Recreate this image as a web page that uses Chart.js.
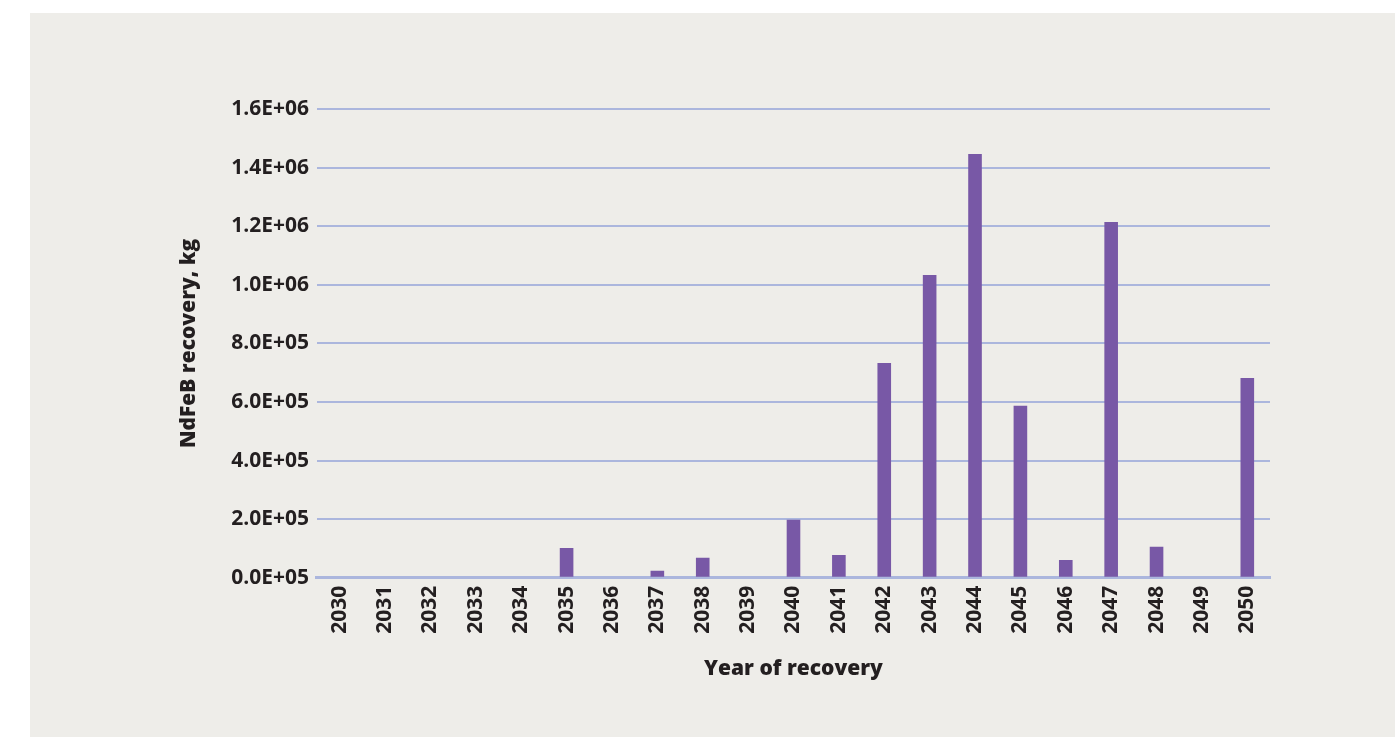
<!DOCTYPE html>
<html>
<head>
<meta charset="utf-8">
<script src="https://cdn.jsdelivr.net/npm/chart.js@4.4.1/dist/chart.umd.min.js"></script>
<style>
  html, body { margin: 0; padding: 0; background: #ffffff; }
  #panel { position: absolute; left: 30px; top: 13px; width: 1365px; height: 724px; background: #eeede9; }
  #wrap { position: absolute; left: 0; top: 0; width: 1395px; height: 737px; }
</style>
</head>
<body>
<div id="panel"></div>
<div id="wrap"><canvas id="bar-chart" width="1395" height="737"></canvas></div>
<script>
// years of recovery
var years = ["2030", "2031", "2032", "2033", "2034", "2035", "2036", "2037", "2038", "2039", "2040",
  "2041", "2042", "2043", "2044", "2045", "2046", "2047", "2048", "2049", "2050"];
// NdFeB recovered per year, kg
var recovery = [0, 0, 0, 0, 0, 102000, 0, 24000, 68000, 0, 198000,
  78000, 733000, 1033000, 1446000, 587000, 61000, 1214000, 106000, 0, 682000];
// y axis tick labels, bottom to top
var yTickLabels = ["0.0E+05", "2.0E+05", "4.0E+05", "6.0E+05", "8.0E+05",
  "1.0E+06", "1.2E+06", "1.4E+06", "1.6E+06"];

var fontFamily = "'Open Sans', 'DejaVu Sans', sans-serif";
var gridColor = "#abb6dd";

var ctx = document.getElementById("bar-chart").getContext("2d");
var chart = new Chart(ctx, {
  type: "bar",
  data: {
    labels: years,
    datasets: [
      {
        backgroundColor: "#7858a6",
        data: recovery,
        barPercentage: 0.3,
        categoryPercentage: 1.0,
      },
    ],
  },
  options: {
    responsive: false,
    animation: false,
    layout: {
      padding: { left: 176, right: 125, top: 109, bottom: 55 },
    },
    plugins: {
      legend: { display: false },
      tooltip: { enabled: false },
    },
    scales: {
      x: {
        grid: { display: false, drawTicks: false },
        border: { display: true, color: gridColor, width: 3 },
        ticks: {
          color: "#231f20",
          padding: 8,
          minRotation: 90,
          maxRotation: 90,
          autoSkip: false,
          font: { family: fontFamily, size: 21, weight: "bold" },
        },
        title: {
          display: true,
          text: "Year of recovery",
          color: "#231f20",
          padding: { top: 15, bottom: 0 },
          font: { family: fontFamily, size: 21, weight: "800" },
        },
      },
      y: {
        min: 0,
        max: 1600000,
        grid: { color: gridColor, lineWidth: 2, drawTicks: false },
        border: { display: false },
        ticks: {
          stepSize: 200000,
          color: "#231f20",
          padding: 8,
          font: { family: fontFamily, size: 21, weight: "bold" },
          callback: function (value, index) {
            return yTickLabels[index];
          },
        },
        title: {
          display: true,
          text: "NdFeB recovery, kg",
          color: "#231f20",
          padding: { top: 0, bottom: 22 },
          font: { family: fontFamily, size: 21, weight: "800" },
        },
      },
    },
  },
});
</script>
</body>
</html>
